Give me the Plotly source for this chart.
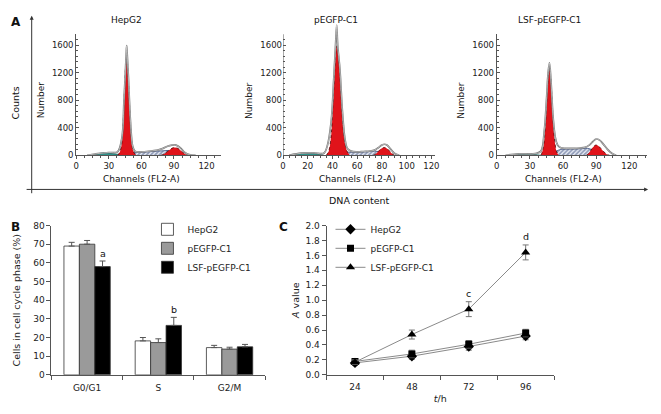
import plotly.graph_objects as go

# ---------------- Panel A : DNA content histograms ----------------
hist_titles = ["HepG2", "pEGFP-C1", "LSF-pEGFP-C1"]
hist_xmax = [133, 123.2, 136]
hist_xdtick = [30, 20, 30]

# HepG2
h1_debris_ch = [14, 18, 22, 26, 30, 34, 38, 42]
h1_debris = [0, 15, 30, 40, 35, 25, 15, 0]
h1_s_ch = [48, 52, 56, 60, 65, 70, 75, 80, 85, 88, 92, 96]
h1_s = [0, 40, 45, 45, 50, 55, 60, 65, 70, 60, 40, 0]
h1_g1_ch = [38, 40, 42, 43, 44, 45, 46, 46.5, 47, 48, 49, 50, 51, 52, 54, 56]
h1_g1 = [0, 40, 180, 400, 750, 1150, 1400, 1450, 1380, 1100, 750, 420, 200, 90, 20, 0]
h1_g2_ch = [78, 81, 84, 87, 89, 91, 93, 95, 98, 101, 103]
h1_g2 = [0, 20, 55, 90, 108, 113, 105, 85, 45, 12, 0]
h1_env_ch = [10, 20, 30, 38, 42, 44, 46, 46.5, 47, 48, 50, 52, 54, 56, 60, 65, 70, 75, 80, 84, 88, 91, 94, 97, 100, 104, 110]
h1_env = [0, 25, 40, 50, 250, 800, 1450, 1590, 1450, 1150, 480, 130, 60, 50, 50, 55, 65, 75, 100, 130, 148, 150, 130, 90, 40, 10, 0]
h1_marks = [47, 91]

# pEGFP-C1
h2_debris_ch = [6, 10, 15, 20, 25, 30, 33]
h2_debris = [0, 15, 30, 35, 25, 15, 0]
h2_s_ch = [47, 50, 55, 60, 65, 70, 74, 78, 82, 86]
h2_s = [0, 40, 45, 45, 50, 55, 60, 50, 30, 0]
h2_g1_ch = [35, 37, 39, 40, 41, 42, 43, 43.5, 44, 45, 46, 47, 48, 49, 50, 52, 54]
h2_g1 = [0, 60, 300, 600, 950, 1300, 1550, 1590, 1560, 1400, 1150, 850, 550, 330, 180, 50, 0]
h2_g2_ch = [73, 75, 77, 79, 81, 82, 84, 86, 88, 90]
h2_g2 = [0, 20, 55, 90, 110, 113, 100, 65, 25, 0]
h2_env_ch = [5, 15, 25, 33, 36, 39, 41, 42.5, 43.4, 44.2, 46, 48, 50, 52, 55, 60, 65, 70, 74, 77, 80, 82, 84, 87, 90, 94]
h2_env = [0, 30, 35, 30, 150, 500, 1100, 1600, 1890, 1600, 1250, 650, 250, 100, 60, 50, 55, 60, 75, 110, 150, 160, 150, 90, 30, 0]
h2_marks = [32, 71.5]

# LSF-pEGFP-C1
h3_debris_ch = [10, 15, 20, 25, 30, 35, 40]
h3_debris = [0, 10, 20, 25, 20, 10, 0]
h3_s_ch = [50, 54, 58, 62, 66, 70, 75, 80, 84, 88, 92]
h3_s = [0, 60, 85, 90, 92, 92, 95, 100, 95, 60, 0]
h3_g1_ch = [40, 42, 44, 45, 46, 47, 47.7, 48.5, 49.5, 50.5, 51.5, 52.5, 54, 56]
h3_g1 = [0, 100, 420, 700, 1000, 1200, 1246, 1180, 950, 650, 380, 200, 60, 0]
h3_g2_ch = [81, 83, 85, 87, 89, 90, 91, 93, 95, 97, 99, 102]
h3_g2 = [0, 25, 70, 115, 145, 150, 145, 120, 85, 50, 20, 0]
h3_env_ch = [8, 20, 35, 40, 43, 45, 46.5, 47.7, 49, 51, 53, 55, 58, 62, 66, 70, 75, 80, 84, 87, 90, 93, 96, 100, 104, 108]
h3_env = [0, 20, 25, 60, 350, 800, 1200, 1340, 1100, 550, 260, 150, 110, 100, 100, 100, 105, 115, 150, 200, 236, 220, 170, 90, 30, 0]
h3_marks = [47, 90]

# ---------------- Panel B : cell-cycle distribution ----------------
phases = ["G0/G1", "S", "G2/M"]
groups = ["HepG2", "pEGFP-C1", "LSF-pEGFP-C1"]
pct_hepg2 = [69.0, 18.2, 14.6]
pct_hepg2_err = [2.0, 1.8, 1.2]
pct_pegfp = [70.0, 17.3, 13.8]
pct_pegfp_err = [2.0, 2.0, 1.0]
pct_lsf = [58.0, 26.5, 15.0]
pct_lsf_err = [3.0, 4.3, 1.3]
bar_letters = {"G0/G1": "a", "S": "b"}

# ---------------- Panel C : growth curve ----------------
times = ["24", "48", "72", "96"]
a_hepg2 = [0.16, 0.25, 0.38, 0.52]
a_hepg2_err = [0.03, 0.04, 0.05, 0.05]
a_pegfp = [0.18, 0.28, 0.41, 0.56]
a_pegfp_err = [0.03, 0.05, 0.05, 0.05]
a_lsf = [0.17, 0.54, 0.88, 1.64]
a_lsf_err = [0.03, 0.06, 0.10, 0.10]
line_letters = {"72": "c", "96": "d"}

W, H = 661, 414
FONT = "DejaVu Sans"
AX = "#555555"


def px(x):
    return x / W


def py(y):
    return 1 - y / H


fig = go.Figure()

hists = [
    (h1_debris_ch, h1_debris, h1_s_ch, h1_s, h1_g1_ch, h1_g1, h1_g2_ch, h1_g2, h1_env_ch, h1_env, h1_marks),
    (h2_debris_ch, h2_debris, h2_s_ch, h2_s, h2_g1_ch, h2_g1, h2_g2_ch, h2_g2, h2_env_ch, h2_env, h2_marks),
    (h3_debris_ch, h3_debris, h3_s_ch, h3_s, h3_g1_ch, h3_g1, h3_g2_ch, h3_g2, h3_env_ch, h3_env, h3_marks),
]

for i, (dch, dv, sch, sv, g1ch, g1v, g2ch, g2v, ech, ev, marks) in enumerate(hists):
    xa = "x" if i == 0 else f"x{i+1}"
    ya = "y" if i == 0 else f"y{i+1}"
    common = dict(xaxis=xa, yaxis=ya, showlegend=False, hoverinfo="skip")
    fig.add_trace(go.Scatter(x=dch, y=dv, mode="lines", fill="tozeroy", line_shape="spline",
                             line=dict(color="#1d6b66", width=0.7), fillcolor="#2f948c", **common))
    fig.add_trace(go.Scatter(x=sch, y=sv, mode="lines", fill="tozeroy", line_shape="spline",
                             line=dict(color="#34477a", width=0.8),
                             fillpattern=dict(shape="/", fgcolor="#34477a", bgcolor="#e8ecf5", size=3, solidity=0.55),
                             **common))
    for gch, gv in ((g1ch, g1v), (g2ch, g2v)):
        fig.add_trace(go.Scatter(x=gch, y=gv, mode="lines", fill="tozeroy", line_shape="spline",
                                 line=dict(color="#4a0505", width=0.8, dash="dot"), fillcolor="#e0131a", **common))
    fig.add_trace(go.Scatter(x=ech, y=ev, mode="lines", line_shape="spline",
                             line=dict(color="#6e6e6e", width=1.7), **common))
    fig.add_trace(go.Scatter(x=ech, y=ev, mode="lines", line_shape="spline",
                             line=dict(color="white", width=0.5), **common))
    fig.add_trace(go.Scatter(x=marks, y=[-22] * len(marks), mode="markers", cliponaxis=False,
                             marker=dict(symbol="triangle-up", size=5, color="black"), **common))

# Panel B bars
bar_specs = [
    ("HepG2", pct_hepg2, pct_hepg2_err, "white"),
    ("pEGFP-C1", pct_pegfp, pct_pegfp_err, "#9a9a9a"),
    ("LSF-pEGFP-C1", pct_lsf, pct_lsf_err, "black"),
]
for name, vals, errs, col in bar_specs:
    fig.add_trace(go.Bar(
        x=phases, y=vals, name=name, xaxis="x4", yaxis="y4", legend="legend",
        marker=dict(color=col, line=dict(color="#333333", width=0.8)),
        error_y=dict(type="data", array=errs, arrayminus=[0] * len(errs), symmetric=False,
                     color="#555555", thickness=1, width=3),
    ))

# Panel C lines
line_specs = [
    ("HepG2", a_hepg2, a_hepg2_err, "diamond", 8),
    ("pEGFP-C1", a_pegfp, a_pegfp_err, "square", 7),
    ("LSF-pEGFP-C1", a_lsf, a_lsf_err, "triangle-up", 8),
]
for name, vals, errs, sym, sz in line_specs:
    fig.add_trace(go.Scatter(
        x=times, y=vals, name=name, xaxis="x5", yaxis="y5", legend="legend2",
        mode="lines+markers", line=dict(color="#8a8a8a", width=1),
        marker=dict(symbol=sym, size=sz, color="black"),
        error_y=dict(type="data", array=errs, color="#777777", thickness=1, width=3),
    ))

# Axis layouts
hist_dom_x = [(74, 220), (283, 437), (499, 651)]
hist_yrange = [1756, 1900, 1756]
hist_top = [30, 154 - 1900 * 0.070625, 30]
lay = {}
for i in range(3):
    sfx = "" if i == 0 else str(i + 1)
    lay[f"xaxis{sfx}"] = dict(
        domain=[px(hist_dom_x[i][0]), px(hist_dom_x[i][1])], range=[0, hist_xmax[i]],
        anchor="y" + sfx, showline=True, linecolor=AX, linewidth=1, ticks="outside", ticklen=3,
        tickcolor=AX, dtick=hist_xdtick[i], tick0=0, showgrid=False, zeroline=False,
        tickfont=dict(size=8.5, family=FONT, color="#222"),
        minor=dict(ticks="outside", ticklen=2, dtick=hist_xdtick[i] / 4 if i != 1 else 5, tickcolor=AX),
    )
    lay[f"yaxis{sfx}"] = dict(
        domain=[py(154), py(hist_top[i])], range=[0, hist_yrange[i]], anchor="x" + sfx,
        showline=(i != 1), linecolor=AX, linewidth=1, ticks="inside", ticklen=3, tickcolor=AX,
        tickvals=[0, 400, 800, 1200, 1600], showgrid=False, zeroline=False,
        tickfont=dict(size=8.5, family=FONT, color="#222"),
        minor=dict(ticks="inside", ticklen=2, tickvals=list(range(0, 1760, 80)), tickcolor=AX),
    )

lay["xaxis4"] = dict(domain=[px(49), px(265)], anchor="y4", type="category", range=[-0.5, 2.5],
                     showline=True, linecolor=AX, linewidth=1, ticks="outside", ticklen=4, tickcolor=AX,
                     tickson="boundaries", showgrid=False, ticklabelstandoff=4,
                     tickfont=dict(size=9, family=FONT, color="#222"))
lay["yaxis4"] = dict(domain=[py(379), py(226)], anchor="x4", range=[0, 80], dtick=10, showline=True,
                     linecolor=AX, linewidth=1, ticks="outside", ticklen=4, tickcolor=AX, showgrid=False,
                     zeroline=False, tickfont=dict(size=9, family=FONT, color="#222"),
                     title=dict(text="Cells in cell cycle phase (%)", standoff=10,
                                font=dict(size=9.5, family=FONT, color="#222")))
lay["xaxis5"] = dict(domain=[px(327), px(557)], anchor="y5", type="category", range=[-0.5, 3.5],
                     showline=True, linecolor=AX, linewidth=1, ticks="outside", ticklen=4, tickcolor=AX,
                     tickson="boundaries", showgrid=False, ticklabelstandoff=3,
                     tickfont=dict(size=9, family=FONT, color="#222"),
                     title=dict(text="<i>t</i>/h", standoff=4, font=dict(size=9.5, family=FONT, color="#222")))
lay["yaxis5"] = dict(domain=[py(379), py(226)], anchor="x5", range=[0, 2], dtick=0.2, tickformat=".1f",
                     showline=True, linecolor=AX, linewidth=1, ticks="outside", ticklen=4, tickcolor=AX,
                     showgrid=False, zeroline=False, tickfont=dict(size=9, family=FONT, color="#222"),
                     title=dict(text="<i>A</i> value", standoff=4, font=dict(size=9.5, family=FONT, color="#222")))

annotations = []


def txt(x, y, text, size=9, bold=False, angle=0, **kw):
    annotations.append(dict(x=x, y=y, text=("<b>%s</b>" % text) if bold else text, showarrow=False,
                            xref=kw.pop("xref", "paper"), yref=kw.pop("yref", "paper"), textangle=angle,
                            xanchor="center", yanchor="middle",
                            font=dict(size=size, family=FONT, color="#111"), **kw))


txt(px(13), py(17), "A", size=12, bold=True)
txt(px(13), py(227), "B", size=12, bold=True)
txt(px(283), py(227), "C", size=12, bold=True)
txt(px(13), py(100), "Counts", size=9.5, angle=-90)
txt(px(360), py(200), "DNA content", size=9.5)
title_x = [125, 337, 552]
number_x = [38, 248, 463]
for i in range(3):
    sfx = "" if i == 0 else str(i + 1)
    txt(px(title_x[i]), py(15), hist_titles[i], size=9)
    txt(px(number_x[i]), py(98), "Number", size=9, angle=-90)
    txt(60, py(178), "Channels (FL2-A)", size=9, xref="x" + sfx)

# significance letters (placed above the LSF-pEGFP-C1 error bars)
for ph, letter in bar_letters.items():
    k = phases.index(ph)
    txt(k, pct_lsf[k] + pct_lsf_err[k] + 4, letter, size=9.5, xref="x4", yref="y4", xshift=16)
for t, letter in line_letters.items():
    k = times.index(t)
    txt(k, a_lsf[k] + a_lsf_err[k] + 0.11, letter, size=9.5, xref="x5", yref="y5")

# Frame arrows for panel A
annotations.append(dict(x=px(29), y=py(11), ax=0, ay=179, xref="paper", yref="paper", text="",
                        showarrow=True, arrowhead=2, arrowsize=0.8, arrowwidth=1, arrowcolor="#333"))
annotations.append(dict(x=px(652), y=py(189), ax=-623, ay=0, xref="paper", yref="paper", text="",
                        showarrow=True, arrowhead=2, arrowsize=0.8, arrowwidth=1, arrowcolor="#333"))

shapes = [dict(type="line", xref="x2", yref="y2", x0=0, x1=0, y0=0, y1=1756,
               line=dict(color=AX, width=1))]

fig.update_layout(
    width=W, height=H, margin=dict(l=0, r=0, t=0, b=0),
    paper_bgcolor="white", plot_bgcolor="rgba(0,0,0,0)",
    font=dict(family=FONT, size=9, color="#222"),
    barmode="group", bargap=0.35, bargroupgap=0,
    annotations=annotations, shapes=shapes,
    legend=dict(x=px(146), y=py(215), xanchor="left", yanchor="top", bgcolor="rgba(0,0,0,0)",
                font=dict(size=9, family=FONT, color="#222"), tracegroupgap=0),
    legend2=dict(x=px(331), y=py(215), xanchor="left", yanchor="top", bgcolor="rgba(0,0,0,0)",
                 font=dict(size=9, family=FONT, color="#222"), tracegroupgap=0),
    **lay,
)

fig.write_html("out.html", config={"displayModeBar": False},
               post_script="document.body.style.margin='0';")
